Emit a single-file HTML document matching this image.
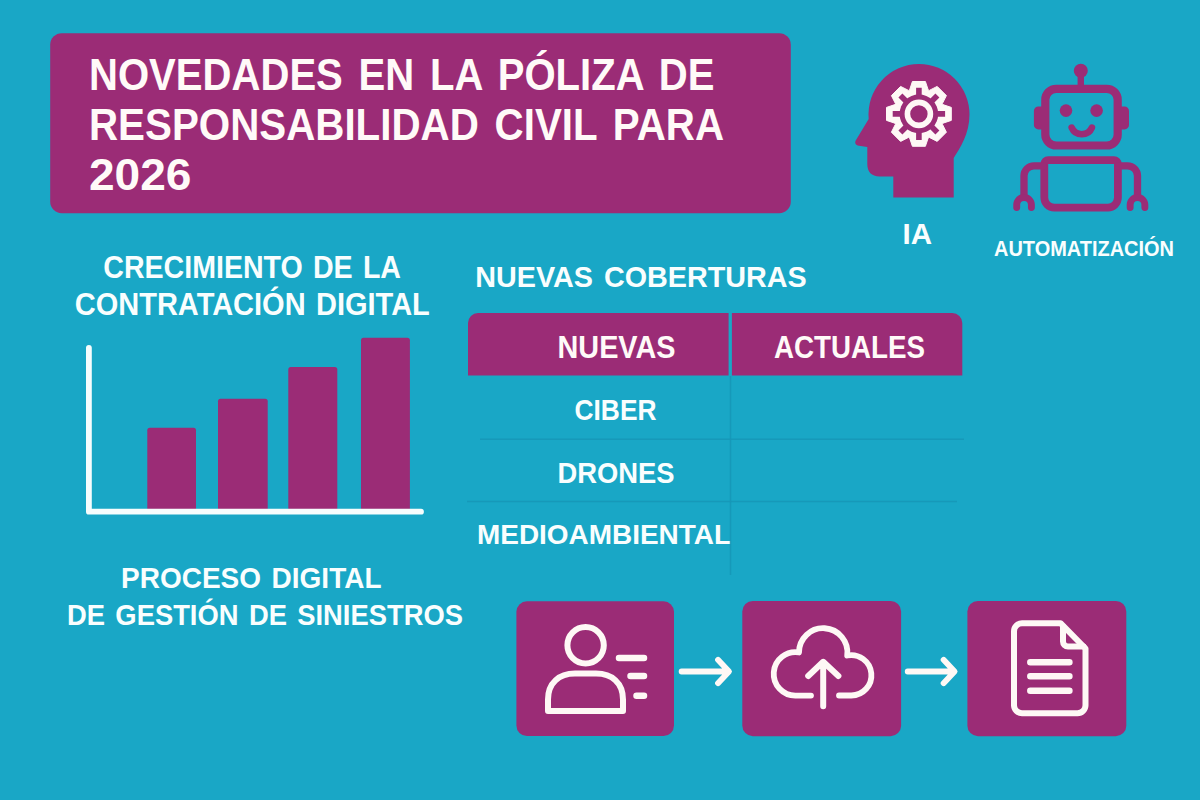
<!DOCTYPE html>
<html lang="es">
<head>
<meta charset="utf-8">
<title>Novedades en la póliza de responsabilidad civil para 2026</title>
<style>
  html, body { margin: 0; padding: 0; background: #19a7c6; }
  body { width: 1200px; height: 800px; overflow: hidden; }
  svg { display: block; }
  text { font-family: "Liberation Sans", sans-serif; font-weight: bold; }
  .w { fill: #f9fefe; }
  .t { fill: #fffaf8; }
  .p { fill: #9b2c76; }
  .ps { fill: none; stroke: #9b2c76; stroke-linecap: round; stroke-linejoin: round; }
  .ws { fill: none; stroke: #fef8f5; stroke-linecap: round; stroke-linejoin: round; }
  .ln { stroke: #1696b6; stroke-width: 1.5; fill: none; opacity: .85; }
</style>
</head>
<body>
<svg width="1200" height="800" viewBox="0 0 1200 800">
  <rect width="1200" height="800" fill="#19a7c6"/>

  <!-- Title box -->
  <rect class="p" x="50.2" y="33.2" width="740.6" height="180" rx="11.5"/>
  <text class="t" x="89" y="90.3" font-size="43.5" word-spacing="5" textLength="625.5" lengthAdjust="spacingAndGlyphs">NOVEDADES EN LA PÓLIZA DE</text>
  <text class="t" x="89" y="140" font-size="43.5" word-spacing="5" textLength="635" lengthAdjust="spacingAndGlyphs">RESPONSABILIDAD CIVIL PARA</text>
  <text class="t" x="89" y="189.7" font-size="43.5" textLength="102.5" lengthAdjust="spacingAndGlyphs">2026</text>

  <!-- IA head icon -->
  <g id="ia">
    <path class="p" d="M919 64 A50.5 50.5 0 0 1 969.5 114.5 C969.5 134 960 148 953.7 158 L953.7 197.6 L893.3 197.6 L893.3 176.4 L879.5 176.4 C871.5 176.4 867.3 172 867.3 164 L867.3 147 L859 145.8 C855.5 145.3 854.3 142.5 856 140 L868.7 119 A50.5 50.5 0 0 1 919 64 Z"/>
    <path d="M909.6 89.9 L912.4 81.5 L925.4 81.5 L928.2 89.9 L929.3 90.4 L937.2 86.4 L946.4 95.6 L942.4 103.5 L942.9 104.6 L951.3 107.4 L951.3 120.4 L942.9 123.2 L942.4 124.3 L946.4 132.2 L937.2 141.4 L929.3 137.4 L928.2 137.9 L925.4 146.3 L912.4 146.3 L909.6 137.9 L908.5 137.4 L900.6 141.4 L891.4 132.2 L895.4 124.3 L894.9 123.2 L886.5 120.4 L886.5 107.4 L894.9 104.6 L895.4 103.5 L891.4 95.6 L900.6 86.4 L908.5 90.4 Z" fill="#fef8f5" stroke="#fef8f5" stroke-width="1" stroke-linejoin="round"/>
    <circle class="p" cx="918.9" cy="113.9" r="19.3"/>
    <path d="M945.1 113.9 L892.7 113.9 M937.4 132.4 L900.4 95.4 M918.9 140.1 L918.9 87.7 M900.4 132.4 L937.4 95.4" fill="none" stroke="#9b2c76" stroke-width="5.6" stroke-linecap="butt"/>
    <circle class="ws" stroke-width="5.6" cx="918.9" cy="113.9" r="11.5"/>
  </g>
  <text class="w" x="902.5" y="243.5" font-size="29.5" textLength="29.5" lengthAdjust="spacingAndGlyphs">IA</text>

  <!-- Robot icon -->
  <g id="robot">
    <circle class="p" cx="1080.8" cy="70.8" r="7"/>
    <path class="ps" stroke-width="6.4" stroke-linecap="butt" d="M1080.8 74 V87"/>
    <rect class="ps" stroke-width="8.2" x="1045.3" y="88.8" width="72.4" height="56.7" rx="11"/>
    <path class="p" d="M1044 106.4 H1038.4 A4.5 4.5 0 0 0 1033.9 110.9 V124.9 A4.5 4.5 0 0 0 1038.4 129.4 H1044 Z"/>
    <path class="p" d="M1118 106.4 H1124.5 A4.5 4.5 0 0 1 1129 110.9 V124.9 A4.5 4.5 0 0 1 1124.5 129.4 H1118 Z"/>
    <circle class="p" cx="1066" cy="110.6" r="6.3"/>
    <circle class="p" cx="1096.6" cy="110.6" r="6.3"/>
    <path class="ps" stroke-width="6.6" d="M1071.7 127.6 A11 11 0 0 0 1091.9 127.6"/>
    <path class="ps" stroke-width="7.8" d="M1048.3 160.1 H1113.9 A4 4 0 0 1 1117.9 164.1 V197.6 A10 10 0 0 1 1107.9 207.6 H1054.3 A10 10 0 0 1 1044.3 197.6 V164.1 A4 4 0 0 1 1048.3 160.1 Z"/>
    <path class="ps" stroke-width="7.3" d="M1043 165.8 H1034 A10 10 0 0 0 1024 175.8 V197"/>
    <path class="ps" stroke-width="6.9" d="M1016.7 207.5 V204.8 A7.35 7.35 0 0 1 1031.4 204.8 V207.5"/>
    <path class="ps" stroke-width="7.3" d="M1119 165.8 H1127.5 A10 10 0 0 1 1137.5 175.8 V197"/>
    <path class="ps" stroke-width="6.9" d="M1130.15 207.5 V204.8 A7.35 7.35 0 0 1 1144.85 204.8 V207.5"/>
  </g>
  <text class="w" x="994" y="255.6" font-size="21.8" textLength="180" lengthAdjust="spacingAndGlyphs">AUTOMATIZACIÓN</text>

  <!-- Chart heading -->
  <text class="w" x="103.3" y="277.8" font-size="30.8" word-spacing="2.5" textLength="297.7" lengthAdjust="spacingAndGlyphs">CRECIMIENTO DE LA</text>
  <text class="w" x="74.8" y="315" font-size="30.8" word-spacing="2.5" textLength="355" lengthAdjust="spacingAndGlyphs">CONTRATACIÓN DIGITAL</text>

  <!-- Bar chart -->
  <g id="chart">
    <rect class="p" x="147.3" y="427.7" width="48.7" height="83" rx="2.5"/>
    <rect class="p" x="218" y="398.7" width="49.7" height="112" rx="2.5"/>
    <rect class="p" x="288.3" y="367" width="49" height="144" rx="2.5"/>
    <rect class="p" x="361" y="337.7" width="48.9" height="173" rx="2.5"/>
    <path d="M88.9 347.8 V511.7 H421" fill="none" stroke="#f6fdfd" stroke-width="5.8" stroke-linecap="round" stroke-linejoin="round"/>
  </g>

  <!-- Table -->
  <text class="w" x="475.3" y="286.7" font-size="29.5" word-spacing="3" textLength="331.5" lengthAdjust="spacingAndGlyphs">NUEVAS COBERTURAS</text>
  <path class="p" d="M468 375.4 V323 A10 10 0 0 1 478 313 H728.6 V375.4 Z"/>
  <path class="p" d="M731.9 375.4 V313 H952.3 A10 10 0 0 1 962.3 323 V375.4 Z"/>
  <text class="t" x="557.5" y="357.5" font-size="30.8" textLength="118" lengthAdjust="spacingAndGlyphs">NUEVAS</text>
  <text class="t" x="774" y="357.5" font-size="30.8" textLength="151" lengthAdjust="spacingAndGlyphs">ACTUALES</text>
  <text class="w" x="574.5" y="420" font-size="29.3" textLength="82" lengthAdjust="spacingAndGlyphs">CIBER</text>
  <text class="w" x="557.5" y="482.5" font-size="29.3" textLength="117" lengthAdjust="spacingAndGlyphs">DRONES</text>
  <text class="w" x="477" y="543.8" font-size="28.5" textLength="254" lengthAdjust="spacingAndGlyphs">MEDIOAMBIENTAL</text>
  <path class="ln" d="M730.5 376 V575"/>
  <path class="ln" d="M480 439.3 H964"/>
  <path class="ln" d="M467 501.5 H957"/>

  <!-- Process heading -->
  <text class="w" x="121" y="587.6" font-size="29.8" word-spacing="3" textLength="260.5" lengthAdjust="spacingAndGlyphs">PROCESO DIGITAL</text>
  <text class="w" x="67" y="624.5" font-size="29.8" word-spacing="3" textLength="396" lengthAdjust="spacingAndGlyphs">DE GESTIÓN DE SINIESTROS</text>

  <!-- Process boxes -->
  <rect class="p" x="516.4" y="601.3" width="157.6" height="134.8" rx="10.5"/>
  <rect class="p" x="742.3" y="601" width="158.8" height="135.2" rx="10.5"/>
  <rect class="p" x="967.4" y="600.9" width="158.9" height="135.3" rx="10.5"/>
  <g id="person">
    <circle class="ws" stroke-width="6" cx="585.6" cy="645.3" r="18.2"/>
    <path class="ws" stroke-width="6" d="M548 711 V699.5 C548 683 559 673.6 575 673.6 H596 C612 673.6 623 683 623 699.5 V711 Z"/>
    <path class="ws" stroke-width="6.5" d="M619 657.9 H644 M630.5 675.9 H644 M636.5 695.8 H644"/>
  </g>
  <path class="ws" stroke-width="5.8" d="M681.6 671.5 H728 M718 659.8 L729 671.5 L718 683.2"/>
  <g id="cloud">
    <path class="ws" stroke-width="5.8" d="M811 695.6 H795.7 A21.7 21.7 0 1 1 799 652.5 A24.2 24.2 0 1 1 847.2 655.5 A20.2 20.2 0 1 1 851.3 695.5 H839"/>
    <path class="ws" stroke-width="6" d="M823.2 663 V706.2 M808.2 676 L823.2 661.8 L838.4 676"/>
  </g>
  <path class="ws" stroke-width="5.8" d="M907.7 671.5 H954 M943.6 659.8 L954.6 671.5 L943.6 683.2"/>
  <g id="doc">
    <path class="ws" stroke-width="6" d="M1060.5 623.2 H1022 A8 8 0 0 0 1014 631.2 V705.3 A8 8 0 0 0 1022 713.3 H1077.5 A8 8 0 0 0 1085.5 705.3 V648.5 Z"/>
    <path class="ws" stroke-width="6" d="M1063 626.5 V641.5 A5 5 0 0 0 1068 646.5 H1083.5"/>
    <path class="ws" stroke-width="6.5" d="M1030.3 662.2 H1069.4 M1030.3 676.2 H1069.4 M1030.3 690.8 H1069.4"/>
  </g>
</svg>
</body>
</html>
